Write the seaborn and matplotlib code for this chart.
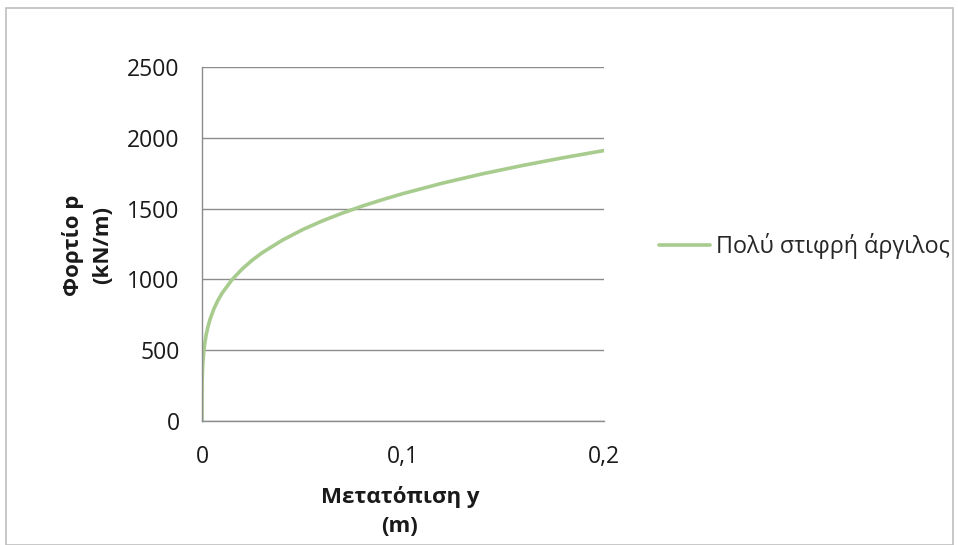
import matplotlib
matplotlib.use("Agg")
import matplotlib.pyplot as plt
import seaborn as sns
import pandas as pd
from matplotlib.patches import Rectangle

# Data
y_disp = [0.0, 0.00005, 0.0001, 0.0002, 0.0003, 0.0005, 0.001, 0.002, 0.003,
          0.004, 0.006, 0.008, 0.01, 0.015, 0.02, 0.025, 0.03, 0.04, 0.05,
          0.06, 0.07, 0.08, 0.09, 0.10, 0.12, 0.14, 0.16, 0.18, 0.20]
p_load = [0, 240, 286, 340, 376, 427, 508, 604, 668,
          718, 795, 854, 903, 999, 1074, 1136, 1189, 1277, 1351,
          1414, 1469, 1519, 1564, 1606, 1681, 1747, 1806, 1860, 1910]
series_name = "Πολύ στιφρή άργιλος"
x_ticks = [0, 0.1, 0.2]
x_tick_labels = ["0", "0,1", "0,2"]
y_ticks = [0, 500, 1000, 1500, 2000, 2500]

df = pd.DataFrame({"y": y_disp, "p": p_load, "series": series_name})

sns.set_theme(style="white")
plt.rcParams["font.family"] = ["Open Sans", "DejaVu Sans"]

fig = plt.figure(figsize=(9.58, 5.45), dpi=100)
ax = fig.add_axes([202/958, 1-421/545, (604-202)/958, (421-67)/545])

sns.lineplot(data=df, x="y", y="p", hue="series", palette=["#a8cb8e"],
             linewidth=2.6, ax=ax, legend=True, sort=False)

ax.set_xlim(0, 0.2)
ax.set_ylim(0, 2500)
ax.set_xticks(x_ticks)
ax.set_xticklabels(x_tick_labels)
ax.set_yticks(y_ticks)
ax.grid(axis="y", color="#8c8c8c", linewidth=1.0)
ax.grid(axis="x", visible=False)
ax.set_axisbelow(True)
for s in ["top", "right"]:
    ax.spines[s].set_visible(False)
for s in ["left", "bottom"]:
    ax.spines[s].set_color("#8c8c8c")
    ax.spines[s].set_linewidth(1.0)
ax.tick_params(axis="both", which="major", labelsize=16.5, colors="#8c8c8c",
               labelcolor="#1a1a1a", direction="out")
ax.tick_params(axis="y", length=6, width=1, pad=10)
ax.tick_params(axis="x", length=8, width=1, pad=9)

ax.set_xlabel("Μετατόπιση y\n(m)", fontsize=16, fontweight="bold",
              color="#1a1a1a", linespacing=1.5)
ax.xaxis.set_label_coords((400-202)/402, (421-486)/354)
ax.set_ylabel("Φορτίο p\n(kN/m)", fontsize=16, fontweight="bold",
              color="#1a1a1a", linespacing=1.5)
ax.yaxis.set_label_coords((113-202)/402, (421-245)/354)

handles, labels = ax.get_legend_handles_labels()
ax.legend(handles, labels, loc="center left", bbox_to_anchor=(1.114, 0.495),
          frameon=False, fontsize=16.8, handlelength=2.2, handletextpad=0.25,
          borderaxespad=0)

fig.patches.append(Rectangle((6/958, 0), (953-6)/958, 1-8/545,
                             transform=fig.transFigure, fill=False,
                             edgecolor="#bfbfbf", linewidth=1.2))

fig.savefig("out.png", dpi=100)
